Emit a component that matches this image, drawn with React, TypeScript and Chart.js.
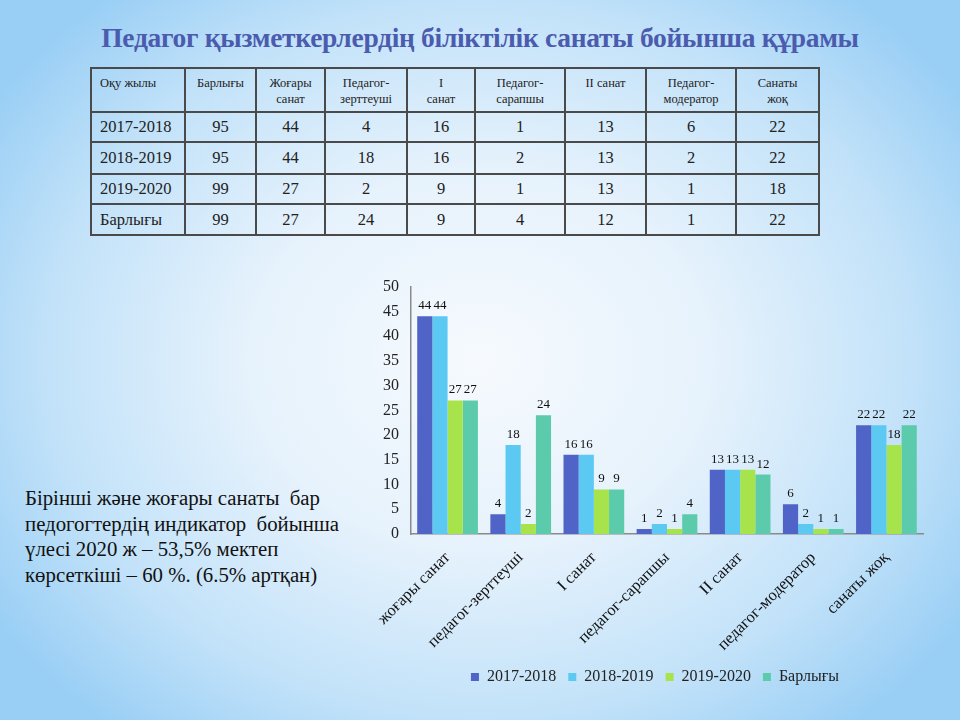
import React, { useEffect, useRef } from "react";
import { Chart, registerables } from "chart.js";

Chart.register(...registerables);

const categories = [
  "жоғары санат",
  "педагог-зерттеуші",
  "І санат",
  "педагог-сарапшы",
  "ІІ санат",
  "педагог-модератор",
  "санаты жоқ",
];
const seriesNames = ["2017-2018", "2018-2019", "2019-2020", "Барлығы"];
const values2017 = [44, 4, 16, 1, 13, 6, 22];
const values2018 = [44, 18, 16, 2, 13, 2, 22];
const values2019 = [27, 2, 9, 1, 13, 1, 18];
const valuesTotal = [27, 24, 9, 4, 12, 1, 22];
const seriesColors = ["#4f64c6", "#5bc9f2", "#a7e34b", "#5ccbac"];

const tableHeaders = [
  "Оқу жылы",
  "Барлығы",
  "Жоғары\nсанат",
  "Педагог-\nзерттеуші",
  "І\nсанат",
  "Педагог-\nсарапшы",
  "ІІ санат",
  "Педагог-\nмодератор",
  "Санаты\nжоқ",
];
const tableRowLabels = ["2017-2018", "2018-2019", "2019-2020", "Барлығы"];
const tableTotals = [95, 95, 99, 99];
const colWidths = [94, 71, 69, 82, 68, 90, 81, 90, 83];
const rowHeights = [30, 32, 30, 31];

const titleText = "Педагог қызметкерлердің біліктілік санаты бойынша құрамы";
const noteLines = [
  "Бірінші және жоғары санаты  бар",
  "педогогтердің индикатор  бойынша",
  "үлесі 2020 ж – 53,5% мектеп",
  "көрсеткіші – 60 %. (6.5% артқан)",
];

const SERIF = "'Liberation Serif', 'Times New Roman', 'DejaVu Serif', serif";

const valueLabels = {
  id: "valueLabels",
  afterDatasetsDraw(chart: any) {
    const ctx = chart.ctx;
    ctx.save();
    ctx.font = `13px ${SERIF}`;
    ctx.fillStyle = "#111";
    ctx.textAlign = "center";
    ctx.textBaseline = "bottom";
    chart.data.datasets.forEach((ds: any, i: number) => {
      const meta = chart.getDatasetMeta(i);
      meta.data.forEach((el: any, j: number) => {
        ctx.fillText(String(ds.data[j]), el.x, el.y - 4);
      });
    });
    ctx.restore();
  },
};

// centre the legend under the plot area like the original slide
const legendShift = {
  id: "legendShift",
  beforeDraw(chart: any) {
    const lg = chart.legend;
    if (!lg) return;
    const d = 16;
    lg.left += d;
    lg.right += d;
    if (lg.legendHitBoxes) lg.legendHitBoxes.forEach((h: any) => (h.left += d));
  },
};

function BarChart() {
  const ref = useRef<HTMLCanvasElement | null>(null);
  useEffect(() => {
    if (!ref.current) return;
    const allSeries = [values2017, values2018, values2019, valuesTotal];
    const chart = new Chart(ref.current, {
      type: "bar",
      data: {
        labels: categories,
        datasets: allSeries.map((d, i) => ({
          label: seriesNames[i],
          data: d,
          backgroundColor: seriesColors[i],
          borderWidth: 0,
          categoryPercentage: 0.83,
          barPercentage: 1.0,
        })),
      },
      options: {
        animation: false,
        responsive: false,
        maintainAspectRatio: false,
        layout: { padding: { left: 0, right: 37, top: 0, bottom: 4 } },
        plugins: {
          legend: {
            position: "bottom",
            labels: {
              boxWidth: 8,
              boxHeight: 8,
              padding: 12,
              color: "#222",
              font: { family: SERIF, size: 16 },
            },
          },
          tooltip: { enabled: false },
        },
        scales: {
          x: {
            grid: { display: false, drawTicks: false },
            border: { display: true, color: "#8a8a8a", width: 1.5 },
            ticks: {
              color: "#111",
              font: { family: SERIF, size: 16.5 },
              maxRotation: 45,
              minRotation: 45,
              padding: 14,
              autoSkip: false,
            },
            afterFit: (s: any) => {
              s.height = 123;
            },
          },
          y: {
            min: 0,
            max: 50,
            grid: { display: false, drawTicks: false },
            border: { display: true, color: "#8a8a8a", width: 1.5 },
            ticks: {
              stepSize: 5,
              color: "#222",
              font: { family: SERIF, size: 16 },
              padding: 12,
            },
            afterFit: (s: any) => {
              s.width = 56;
            },
          },
        },
      },
      plugins: [valueLabels, legendShift],
    });
    return () => chart.destroy();
  }, []);
  return (
    <canvas
      ref={ref}
      width={605}
      height={434}
      style={{ position: "absolute", left: 355, top: 265, width: 605, height: 434 }}
    />
  );
}

export default function App() {
  const cellBorder = "2px solid #4a4a4a";
  const seriesForTable = [values2017, values2018, values2019, valuesTotal];
  return (
    <div
      style={{
        position: "absolute",
        left: 0,
        top: 0,
        width: 960,
        height: 720,
        overflow: "hidden",
        fontFamily: SERIF,
        background:
          "radial-gradient(ellipse 60% 66% at 50% 50%, #f6fafe 0%, #e6f2fc 40%, #c2e2f9 75%, #9acff5 100%)",
      }}
    >
      <div
        style={{
          position: "absolute",
          left: 0,
          top: 18,
          width: 960,
          textAlign: "center",
          fontFamily: "'Liberation Serif', 'Times New Roman', serif",
          fontSize: 27.5,
          fontWeight: 700,
          color: "#4b5cae",
          letterSpacing: -0.3,
          lineHeight: "40px",
        }}
      >
        {titleText}
      </div>
      <table
        style={{
          position: "absolute",
          left: 90,
          top: 67,
          borderCollapse: "collapse",
          tableLayout: "fixed",
          color: "#222",
        }}
      >
        <colgroup>
          {colWidths.map((w, i) => (
            <col key={i} style={{ width: w }} />
          ))}
        </colgroup>
        <tbody>
          <tr style={{ height: 44 }}>
            {tableHeaders.map((h, i) => (
              <td
                key={i}
                style={{
                  border: cellBorder,
                  fontSize: 12.5,
                  lineHeight: "16px",
                  verticalAlign: "top",
                  paddingTop: 6,
                  paddingLeft: i === 0 ? 8 : 2,
                  paddingRight: 2,
                  textAlign: i === 0 ? "left" : "center",
                  whiteSpace: "pre",
                }}
              >
                {h}
              </td>
            ))}
          </tr>
          {tableRowLabels.map((r, ri) => (
            <tr key={ri} style={{ height: rowHeights[ri] }}>
              <td
                style={{
                  border: cellBorder,
                  fontSize: 16.5,
                  textAlign: "left",
                  padding: "0 0 0 8px",
                }}
              >
                {r}
              </td>
              <td style={{ border: cellBorder, fontSize: 16.5, textAlign: "center", padding: 0 }}>
                {tableTotals[ri]}
              </td>
              {categories.map((_, ci) => (
                <td
                  key={ci}
                  style={{ border: cellBorder, fontSize: 16.5, textAlign: "center", padding: 0 }}
                >
                  {seriesForTable[ri][ci]}
                </td>
              ))}
            </tr>
          ))}
        </tbody>
      </table>
      <div
        style={{
          position: "absolute",
          left: 25,
          top: 485,
          fontSize: 20.8,
          lineHeight: "25.5px",
          color: "#111",
          whiteSpace: "pre",
        }}
      >
        {noteLines.join("\n")}
      </div>
      <BarChart />
    </div>
  );
}
